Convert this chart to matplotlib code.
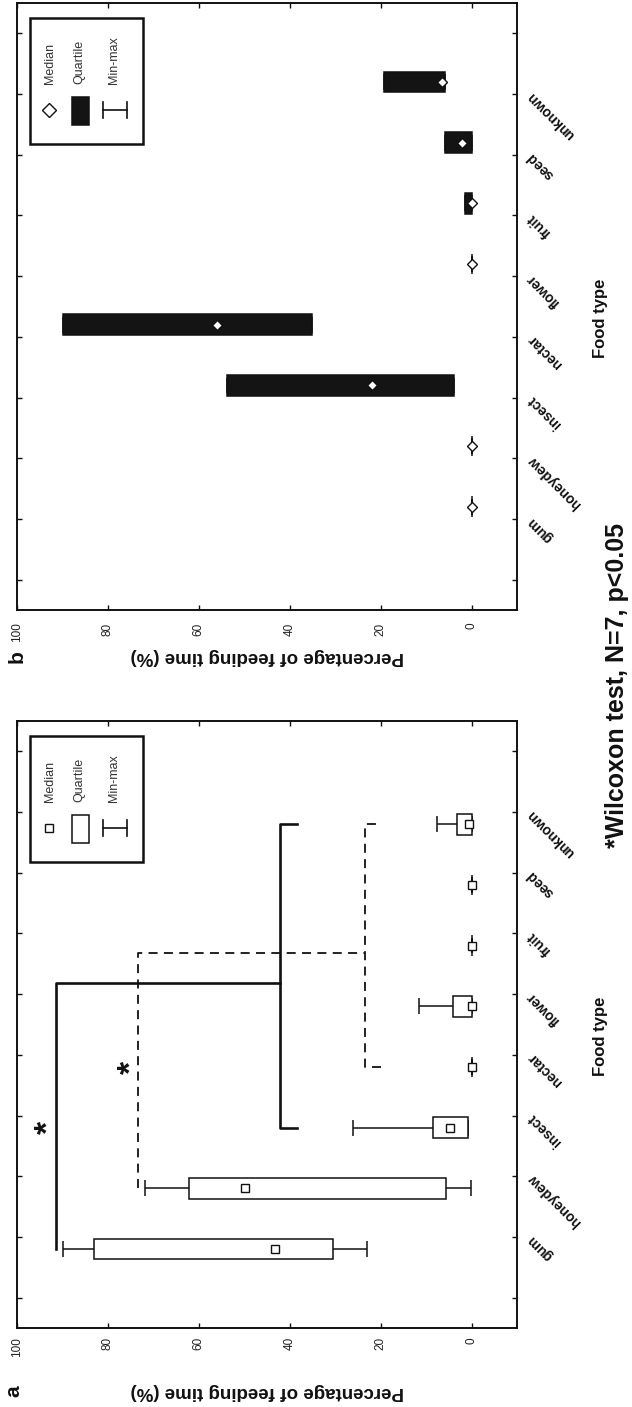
import matplotlib
matplotlib.use('Agg')
import matplotlib.pyplot as plt
from matplotlib.patches import Rectangle
from matplotlib.transforms import offset_copy

plt.rcParams['font.family'] = ['Liberation Sans', 'DejaVu Sans']

foods = ['gum', 'honeydew', 'insect', 'nectar', 'flower', 'fruit', 'seed', 'unknown']
value_ticks = [0, 20, 40, 60, 80, 100]

# panel a - open boxes, square medians
a_min = [23.0, 0.1, 0.7, 0, 0, 0, 0, 0]
a_q1 = [30.5, 5.7, 0.7, 0, 0, 0, 0, 0]
a_med = [43.2, 49.9, 4.7, 0, 0, 0, 0, 0.6]
a_q3 = [83.1, 62.1, 8.5, 0, 4.0, 0, 0, 3.3]
a_max = [89.8, 71.9, 26.1, 0, 11.5, 0, 0, 7.7]

# panel b - black boxes, diamond medians (no whiskers visible)
b_min = [0, 0, 3.8, 35.1, 0, 0, 0, 5.8]
b_q1 = [0, 0, 3.8, 35.1, 0, 0, 0, 5.8]
b_med = [0, 0, 21.9, 56.0, 0, 0, 2.2, 6.6]
b_q3 = [0, 0, 53.7, 89.9, 0, 1.4, 5.8, 19.2]
b_max = [0, 0, 53.7, 89.9, 0, 1.4, 5.8, 19.2]

# Wilcoxon comparisons in panel a
sig_from = ['gum', 'honeydew']
sig_first = ['insect', 'nectar']
sig_last = ['unknown', 'unknown']
sig_top = [91.4, 73.3]
sig_level = [42.1, 23.4]
sig_end = [38.3, 19.9]
sig_star = [95.0, 76.7]
sig_style = ['-', '--']

INK = '#111111'
W, H = 632, 1407
fig = plt.figure(figsize=(W / 100, H / 100), dpi=100)


def frame(top_px):
    return [17 / W, 1 - (top_px + 607) / H, 500 / W, 607 / H]


ax_b = fig.add_axes(frame(3))
ax_a = fig.add_axes(frame(721))


def positions(shift):
    return [8 - i + shift for i in range(len(foods))]


def draw_panel(ax, mins, q1, med, q3, maxs, shift, box_color, marker, ms, xpad):
    pos = positions(shift)
    lo = [p - 0.13 for p in pos]
    hi = [p + 0.13 for p in pos]
    ax.hlines(pos, q3, maxs, color=INK, lw=1.1, zorder=2)
    ax.hlines(pos, mins, q1, color=INK, lw=1.1, zorder=2)
    ax.vlines(maxs, lo, hi, color=INK, lw=1.1, zorder=2)
    ax.vlines(mins, lo, hi, color=INK, lw=1.1, zorder=2)
    ax.barh(pos, [b - a for a, b in zip(q1, q3)], left=q1, height=0.34,
            color=box_color, edgecolor=INK, linewidth=1.1, zorder=3)
    ax.plot(med, pos, ls='none', marker=marker, ms=ms, mfc='white',
            mec=INK, mew=1.0, zorder=4)

    ax.set_xlim(100, -10)
    ax.set_ylim(9.5, -0.5)
    ax.set_xticks(value_ticks)
    ax.set_xticklabels([str(v) for v in value_ticks], rotation=90,
                       fontsize=8.5, color='#222222')
    ax.set_yticks(range(10))
    ax.set_yticklabels([])
    ax.tick_params(axis='both', direction='in', length=3.5, width=1,
                   top=True, right=True, color=INK)
    ax.tick_params(axis='x', pad=xpad)
    for s in ax.spines.values():
        s.set_linewidth(1.4)
        s.set_color(INK)

    for i, name in enumerate(foods):
        ax.text(1.025, 8 - i, name, transform=ax.get_yaxis_transform(),
                rotation=135, rotation_mode='anchor', ha='right', va='center',
                fontsize=10, fontweight='bold', color=INK)
    ax.text(1.168, 0.48, 'Food type', transform=ax.transAxes, rotation=90,
            ha='center', va='center', fontsize=12, fontweight='bold', color=INK)


def draw_legend(ax, box_color, marker, ms):
    ax.add_patch(Rectangle((0.026, 0.768), 0.226, 0.207, transform=ax.transAxes,
                           facecolor='white', edgecolor=INK, lw=1.8, zorder=5))
    for x, name in zip([0.066, 0.124, 0.194], ['Median', 'Quartile', 'Min-max']):
        ax.text(x, 0.867, name, transform=ax.transAxes, rotation=90,
                ha='center', va='bottom', fontsize=9, color='#333333', zorder=6)
    ax.plot([0.064], [0.824], transform=ax.transAxes, ls='none', marker=marker,
            ms=ms, mfc='white', mec=INK, mew=1.0, zorder=6)
    ax.add_patch(Rectangle((0.110, 0.799), 0.034, 0.046, transform=ax.transAxes,
                           facecolor=box_color, edgecolor=INK, lw=1.1, zorder=6))
    ax.plot([0.172, 0.220], [0.824, 0.824], transform=ax.transAxes,
            color=INK, lw=1.2, zorder=6)
    for x in (0.172, 0.220):
        ax.plot([x, x], [0.811, 0.837], transform=ax.transAxes,
                color=INK, lw=1.2, zorder=6)


draw_panel(ax_a, a_min, a_q1, a_med, a_q3, a_max, 0.2, 'white', 's', 6, 6.5)
draw_panel(ax_b, b_min, b_q1, b_med, b_q3, b_max, -0.2, '#141414', 'D', 5.5, 9)
draw_legend(ax_a, 'white', 's', 6)
draw_legend(ax_b, '#141414', 'D', 7)

# significance brackets
pa = dict(zip(foods, positions(0.2)))
# the asterisk glyph sits high in its box, so nudge the text anchor
star_tr = offset_copy(ax_a.transData, fig=fig, x=9, y=0, units='dots')
for f, g0, g1, top, lev, end, star, ls in zip(sig_from, sig_first, sig_last, sig_top,
                                             sig_level, sig_end, sig_star, sig_style):
    lw = 1.9 if ls == '-' else 1.3
    mid = (pa[g0] + pa[g1]) / 2 + 0.12
    kw = dict(color=INK, lw=lw, ls=ls, zorder=2)
    if ls == '--':
        kw['dashes'] = (5, 3.5)
    ax_a.plot([top, top, lev], [pa[f], mid, mid], **kw)
    ax_a.plot([end, lev, lev, end], [pa[g0], pa[g0], pa[g1], pa[g1]], **kw)
    ax_a.text(star, pa[g0], '*', transform=star_tr, rotation=90, ha='center',
              va='center', fontsize=24, fontweight='bold', color=INK)

# axis titles and panel letters
for ax, ybot, letter, lx in [(ax_b, -0.0774, 'b', 0.0), (ax_a, -0.1038, 'a', -0.006)]:
    ax.text(0.5, ybot, 'Percentage of feeding time (%)', transform=ax.transAxes,
            rotation=180, ha='center', va='center', fontsize=13.5,
            fontweight='bold', color=INK)
    ax.text(lx, ybot, letter, transform=ax.transAxes, rotation=90, ha='center',
            va='center', fontsize=15, fontweight='bold', color=INK)

fig.text(617 / W, 1 - 686 / H, '*Wilcoxon test, N=7, p<0.05', rotation=90,
         ha='center', va='center', fontsize=18, fontweight='bold', color=INK)

fig.savefig('out.png', dpi=100)
